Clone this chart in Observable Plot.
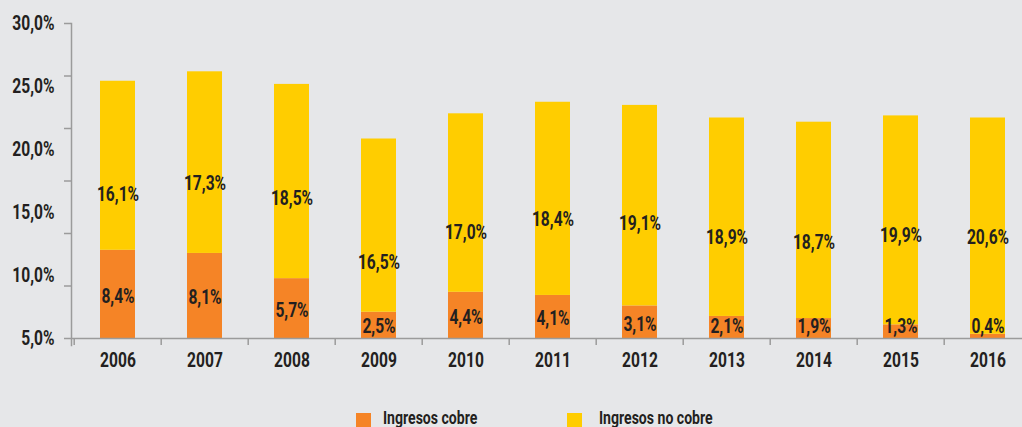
<!DOCTYPE html>
<html>
<head>
<meta charset="utf-8">
<script src="https://cdn.jsdelivr.net/npm/d3@7"></script>
<script src="https://cdn.jsdelivr.net/npm/@observablehq/plot@0.6"></script>
<style>
  html, body { margin: 0; padding: 0; background: #e6e7e9; overflow: hidden; }
  #wrap { width: 1022px; height: 427px; position: relative; }
  .font { font-family: "Roboto", "DejaVu Sans Condensed", sans-serif; font-weight: bold; color: #231f20; }
  #legend { position: absolute; left: 0; top: 400px; width: 1022px; height: 27px; }
  .sw { position: absolute; top: 13px; width: 15px; height: 15px; }
  .lt { position: absolute; top: 8px; font-size: 19px; line-height: 19px; white-space: nowrap; transform: scaleX(0.74); transform-origin: left center; }
</style>
</head>
<body>
<div id="wrap" class="font"></div>
<script>
const years = ["2006","2007","2008","2009","2010","2011","2012","2013","2014","2015","2016"];
const cobre   = [8.4, 8.1, 5.7, 2.5, 4.4, 4.1, 3.1, 2.1, 1.9, 1.3, 0.4];
const noCobre = [16.1, 17.3, 18.5, 16.5, 17.0, 18.4, 19.1, 18.9, 18.7, 19.9, 20.6];
const seriesNames = ["Ingresos cobre", "Ingresos no cobre"];
const seriesColors = ["#f58426", "#ffcd00"];
const yGridTicks = [0, 5, 10, 15, 20, 25, 30];
const yTickValues = [5, 10, 15, 20, 25, 30];
const yTickLabels = ["5,0%", "10,0%", "15,0%", "20,0%", "25,0%", "30,0%"];

const FONT = '"Roboto", "DejaVu Sans Condensed", sans-serif';
const GRAY = "#9b9b9b";
const INK = "#231f20";
const FS = 20;
const SQUEEZE = 0.78;
const fmt = v => d3.format(".1f")(v).replace(".", ",") + "%";

const rows = [];
years.forEach((y, i) => {
  rows.push({year: y, serie: seriesNames[0], value: cobre[i]});
  rows.push({year: y, serie: seriesNames[1], value: noCobre[i]});
});
const cobreRows = years.map((y, i) => ({year: y, value: cobre[i]}));
const noCobreRows = years.map((y, i) => ({year: y, value: noCobre[i], total: cobre[i] + noCobre[i]}));

const x0 = 71, step = 87.6;

const chart = Plot.plot({
  width: 1022,
  height: 400,
  marginLeft: 71,
  marginRight: 0,
  marginTop: 23,
  marginBottom: 62,
  style: {background: "transparent", fontFamily: FONT, fontSize: FS + "px", fontWeight: "bold", color: INK, overflow: "visible"},
  x: {domain: years, range: [x0, x0 + years.length * step], paddingInner: 0.6, paddingOuter: 0.3, label: null},
  y: {domain: [0, 30], label: null},
  color: {domain: seriesNames, range: seriesColors},
  marks: [
    Plot.barY(rows, {x: "year", y: "value", fill: "serie"}),
    Plot.frame({anchor: "left", stroke: GRAY, strokeWidth: 1.5, insetBottom: -7}),
    Plot.axisY({ticks: yGridTicks, tickSize: 7, tickFormat: () => "", stroke: GRAY, strokeWidth: 1.5}),
    Plot.ruleY([0], {stroke: GRAY, strokeWidth: 1.5}),
    Plot.axisX({tickSize: 7, tickFormat: () => "", dx: -step / 2, stroke: GRAY, strokeWidth: 1.5}),
    Plot.axisX({tickSize: 0, tickPadding: 14, fontSize: FS, fontWeight: "bold", fill: INK}),
    Plot.text(yTickValues, {
      frameAnchor: "left", y: v => (v - 5) * 1.2, text: (v, i) => yTickLabels[i],
      dx: -17, textAnchor: "end", fontSize: FS, fontWeight: "bold", fill: INK
    }),
    Plot.text(cobreRows, {
      x: "year", y: d => Math.max(d.value / 2, 1.3), text: d => fmt(d.value),
      dy: 2, fontSize: FS, fontWeight: "bold", fill: INK
    }),
    Plot.text(noCobreRows, {
      x: "year", y: d => d.total * 1.175 - 15.1, text: d => fmt(d.value),
      fontSize: FS, fontWeight: "bold", fill: INK
    })
  ]
});

// condense every label horizontally around its own anchor point
chart.querySelectorAll("text").forEach(t => {
  const X = +(t.getAttribute("x") || 0);
  const prev = t.getAttribute("transform") || "";
  t.setAttribute("transform", `${prev} translate(${X},0) scale(${SQUEEZE},1) translate(${-X},0)`.trim());
});

const wrap = document.getElementById("wrap");
wrap.appendChild(chart);

const legend = document.createElement("div");
legend.id = "legend";
const items = [
  {name: seriesNames[0], color: seriesColors[0], sx: 356, tx: 383},
  {name: seriesNames[1], color: seriesColors[1], sx: 567, tx: 599}
];
items.forEach(it => {
  const sw = document.createElement("div");
  sw.className = "sw";
  sw.style.left = it.sx + "px";
  sw.style.background = it.color;
  legend.appendChild(sw);
  const t = document.createElement("div");
  t.className = "lt";
  t.style.left = it.tx + "px";
  t.textContent = it.name;
  legend.appendChild(t);
});
wrap.appendChild(legend);
</script>
</body>
</html>
